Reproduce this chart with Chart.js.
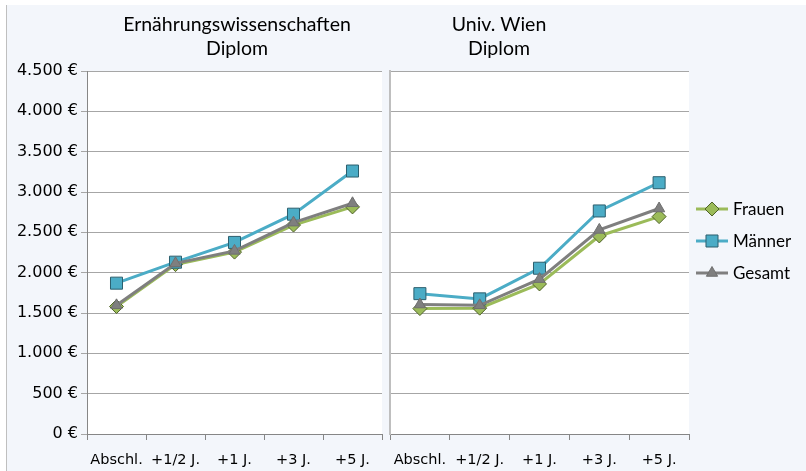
<!DOCTYPE html>
<html>
<head>
<meta charset="utf-8">
<script src="https://cdn.jsdelivr.net/npm/chart.js@4/dist/chart.umd.min.js"></script>
<style>
html,body{margin:0;padding:0;background:#fff;width:806px;height:471px;overflow:hidden;}
#frame{position:absolute;left:6px;top:5px;width:800px;height:466px;background:#F3F6FB;border-left:1px solid #BFBFBF;box-sizing:border-box;}
#inner{position:absolute;left:1px;top:0;width:798px;height:466px;}
canvas{position:absolute;top:0;}
#c1{left:0px;}
#c2{left:352px;}
</style>
</head>
<body>
<div id="frame"><div id="inner"><canvas id="c1" width="386" height="466"></canvas><canvas id="c2" width="446" height="466"></canvas></div></div>
<script>
// ---- data ----
const categories = ['Abschl.', '+1/2 J.', '+1 J.', '+3 J.', '+5 J.'];
const seriesNames = ['Frauen', 'Männer', 'Gesamt'];
const titleLeft = ['Ernährungswissenschaften', 'Diplom'];
const titleRight = ['Univ. Wien', 'Diplom'];
const leftFrauen  = [1580, 2100, 2255, 2590, 2815];
const leftMaenner = [1870, 2130, 2375, 2725, 3260];
const leftGesamt  = [1595, 2115, 2270, 2620, 2860];
const rightFrauen  = [1555, 1560, 1860, 2455, 2695];
const rightMaenner = [1740, 1675, 2055, 2765, 3115];
const rightGesamt  = [1605, 1595, 1920, 2530, 2795];
const yMin = 0, yMax = 4500, yStep = 500;

const FONT = 'Lato';
const TICKFONT = 'DejaVu Sans';
Chart.defaults.font.family = FONT;
Chart.defaults.color = '#000';

const styles = [
  {color:'#9BBB59', border:'#4F6228', point:'rectRot', r:7, order:3},
  {color:'#4BACC6', border:'#2C5F6E', point:'rect', r:8.5, order:2},
  {color:'#7F7F7F', border:'#6F6F6F', point:'triangle', r:6.5, order:1}
];

function fmt(v){ return String(v).replace(/\B(?=(\d{3})+(?!\d))/g, '.') + ' €'; }

function makeDatasets(arrs){
  return arrs.map((d,i)=>({
    label: seriesNames[i], data: d,
    borderColor: styles[i].color, backgroundColor: styles[i].color,
    borderWidth: 3, pointStyle: styles[i].point, pointRadius: styles[i].r,
    pointBorderColor: styles[i].border, pointBorderWidth: 1,
    pointBackgroundColor: styles[i].color, order: styles[i].order, tension: 0
  }));
}

const bgPlugin = {
  id:'plotbg',
  beforeDraw(chart){
    const a = chart.chartArea, ctx = chart.ctx;
    ctx.save(); ctx.fillStyle = '#fff';
    ctx.fillRect(a.left, a.top, a.right - a.left, a.bottom - a.top);
    ctx.restore();
  }
};
function titlePlugin(lines, cx){
  return {
    id:'ttl',
    afterDraw(chart){
      const ctx = chart.ctx; ctx.save();
      ctx.font = '19.5px ' + FONT; ctx.fillStyle = '#000';
      ctx.textAlign = 'center'; ctx.textBaseline = 'middle';
      ctx.fillText(lines[0], cx, 20);
      ctx.fillText(lines[1], cx, 44);
      ctx.restore();
    }
  };
}
function legendPlugin(x0){
  return {
    id:'lgd',
    afterDraw(chart){
      const ctx = chart.ctx; ctx.save();
      const ys = [204, 236, 268];
      chart.data.datasets.forEach((ds,i)=>{
        const y = ys[i];
        ctx.strokeStyle = ds.borderColor; ctx.lineWidth = 3;
        ctx.beginPath(); ctx.moveTo(x0, y); ctx.lineTo(x0 + 32, y); ctx.stroke();
        ctx.fillStyle = ds.pointBackgroundColor; ctx.strokeStyle = ds.pointBorderColor; ctx.lineWidth = 1;
        Chart.helpers.drawPoint(ctx, {pointStyle: ds.pointStyle, radius: ds.pointRadius, rotation: 0, borderWidth: 1}, x0 + 16, y);
        ctx.font = '17px ' + FONT; ctx.fillStyle = '#000';
        ctx.textAlign = 'left'; ctx.textBaseline = 'middle';
        ctx.fillText(ds.label, x0 + 37, y + 1);
      });
      ctx.restore();
    }
  };
}

function xScale(){
  return {
    type:'category',
    offset:true,
    grid:{display:true, drawOnChartArea:false, drawTicks:true, tickLength:6, offset:true, color:'#868686'},
    border:{color:'#868686', width:1},
    ticks:{font:{size:14.5, family:TICKFONT}, color:'#000', padding:12, maxRotation:0, autoSkip:false},
    afterFit(s){ s.height = 37; }
  };
}

new Chart(document.getElementById('c1'), {
  type:'line',
  data:{labels:categories, datasets: makeDatasets([leftFrauen, leftMaenner, leftGesamt])},
  options:{
    responsive:false, animation:false,
    layout:{padding:{top:66, right:12, left:0, bottom:0}},
    plugins:{legend:{display:false}, tooltip:{enabled:false}},
    scales:{
      x: xScale(),
      y:{min:yMin, max:yMax,
         ticks:{stepSize:yStep, callback:fmt, font:{size:16, family:TICKFONT}, color:'#000', padding:3},
         grid:{color:'#A6A6A6', tickLength:6, drawTicks:true},
         border:{color:'#868686', width:1},
         afterFit(s){ s.width = 79; }}
    }
  },
  plugins:[bgPlugin, titlePlugin(titleLeft, 229)]
});

new Chart(document.getElementById('c2'), {
  type:'line',
  data:{labels:categories, datasets: makeDatasets([rightFrauen, rightMaenner, rightGesamt])},
  options:{
    responsive:false, animation:false,
    layout:{padding:{top:66, right:117, left:0, bottom:0}},
    plugins:{legend:{display:false}, tooltip:{enabled:false}},
    scales:{
      x: xScale(),
      y:{min:yMin, max:yMax,
         ticks:{stepSize:yStep, display:false},
         grid:{color:'#A6A6A6', drawTicks:false},
         border:{color:'#BFBFBF', width:2},
         afterFit(s){ s.width = 30; }}
    }
  },
  plugins:[bgPlugin, titlePlugin(titleRight, 139), legendPlugin(336)]
});
</script>
</body>
</html>
